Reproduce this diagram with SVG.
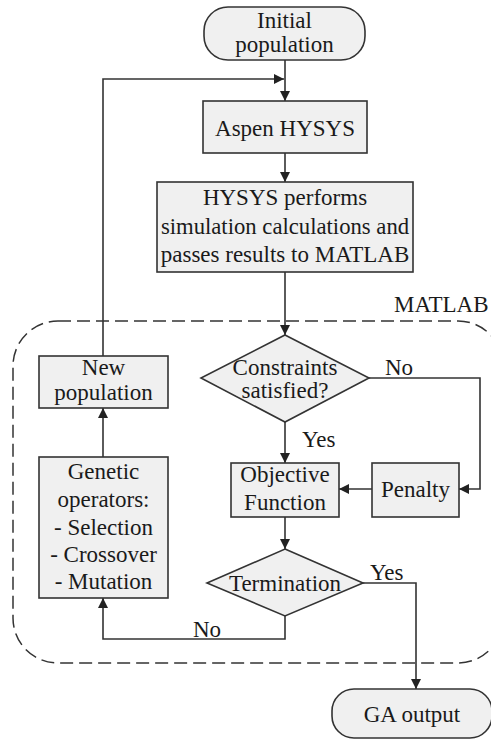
<svg xmlns="http://www.w3.org/2000/svg" width="491" height="740" viewBox="0 0 491 740">
<style>
.n{fill:#f0f0f0;stroke:#333;stroke-width:1.6}
.c{fill:none;stroke:#333;stroke-width:1.6}
.h{fill:#222;stroke:none}
</style>
<rect id="matlab" x="13" y="321" width="490" height="342" rx="45" fill="none" stroke="#333" stroke-width="1.5" stroke-dasharray="13,6"/>
<text style="font-family:'Liberation Serif';font-size:23px" fill="#1a1a1a" x="394" y="312">MATLAB</text>
<g id="connectors">
<path class="c" d="M285,60 V101"/>
<path class="c" d="M103,356 V79 H284"/>
<path class="c" d="M285,153 V182"/>
<path class="c" d="M285,272 V335"/>
<path class="c" d="M285,422 V463"/>
<path class="c" d="M369,378 H480 V489 H459"/>
<path class="c" d="M372,489 H339"/>
<path class="c" d="M285,517 V549"/>
<path class="c" d="M363,583 H416 V689"/>
<path class="c" d="M285,616 V639 H103 V598"/>
<path class="c" d="M103,457 V408"/>
<polygon class="h" points="280,91 290,91 285,101"/>
<polygon class="h" points="274,74 274,84 284,79"/>
<polygon class="h" points="280,172 290,172 285,182"/>
<polygon class="h" points="280,325 290,325 285,335"/>
<polygon class="h" points="280,453 290,453 285,463"/>
<polygon class="h" points="469,484 469,494 459,489"/>
<polygon class="h" points="349,484 349,494 339,489"/>
<polygon class="h" points="280,539 290,539 285,549"/>
<polygon class="h" points="411,679 421,679 416,689"/>
<polygon class="h" points="98,608 108,608 103,598"/>
<polygon class="h" points="98,418 108,418 103,408"/>
<text style="font-family:'Liberation Serif';font-size:23px" fill="#1a1a1a" x="385" y="375">No</text>
<text style="font-family:'Liberation Serif';font-size:23px" fill="#1a1a1a" x="302" y="447">Yes</text>
<text style="font-family:'Liberation Serif';font-size:23px" fill="#1a1a1a" x="370" y="580">Yes</text>
<text style="font-family:'Liberation Serif';font-size:23px" fill="#1a1a1a" x="193" y="637">No</text>
</g>
<g id="initial">
<rect class="n" x="204" y="7" width="161" height="53" rx="24"/>
<text style="font-family:'Liberation Serif';font-size:23px" fill="#1a1a1a" text-anchor="middle" x="284.5" y="28">Initial</text>
<text style="font-family:'Liberation Serif';font-size:23px" fill="#1a1a1a" text-anchor="middle" x="284.5" y="52">population</text>
</g>
<g id="aspen">
<rect class="n" x="203" y="101" width="164" height="52"/>
<text style="font-family:'Liberation Serif';font-size:23px" fill="#1a1a1a" text-anchor="middle" x="285" y="136">Aspen HYSYS</text>
</g>
<g id="hysys">
<rect class="n" x="157" y="182" width="256" height="90"/>
<text style="font-family:'Liberation Serif';font-size:23px" fill="#1a1a1a" text-anchor="middle" x="285" y="205">HYSYS performs</text>
<text style="font-family:'Liberation Serif';font-size:22.7px" fill="#1a1a1a" text-anchor="middle" x="285" y="233.5">simulation calculations and</text>
<text style="font-family:'Liberation Serif';font-size:23px" fill="#1a1a1a" text-anchor="middle" x="285" y="262">passes results to MATLAB</text>
</g>
<g id="constraints">
<polygon class="n" points="285,335 369,378 285,422 201,378"/>
<text style="font-family:'Liberation Serif';font-size:23px" fill="#1a1a1a" text-anchor="middle" x="285" y="375">Constraints</text>
<text style="font-family:'Liberation Serif';font-size:23px" fill="#1a1a1a" text-anchor="middle" x="285" y="398">satisfied?</text>
</g>
<g id="newpop">
<rect class="n" x="39" y="356" width="129" height="52"/>
<text style="font-family:'Liberation Serif';font-size:23px" fill="#1a1a1a" text-anchor="middle" x="103.5" y="375">New</text>
<text style="font-family:'Liberation Serif';font-size:23px" fill="#1a1a1a" text-anchor="middle" x="103.5" y="400">population</text>
</g>
<g id="genetic">
<rect class="n" x="39" y="457" width="129" height="141"/>
<text style="font-family:'Liberation Serif';font-size:23px" fill="#1a1a1a" text-anchor="middle" x="103.5" y="479">Genetic</text>
<text style="font-family:'Liberation Serif';font-size:23px" fill="#1a1a1a" text-anchor="middle" x="103.5" y="507">operators:</text>
<text style="font-family:'Liberation Serif';font-size:23px" fill="#1a1a1a" text-anchor="middle" x="103.5" y="535">- Selection</text>
<text style="font-family:'Liberation Serif';font-size:23px" fill="#1a1a1a" text-anchor="middle" x="103.5" y="562">- Crossover</text>
<text style="font-family:'Liberation Serif';font-size:23px" fill="#1a1a1a" text-anchor="middle" x="103.5" y="589">- Mutation</text>
</g>
<g id="objective">
<rect class="n" x="231" y="463" width="108" height="54"/>
<text style="font-family:'Liberation Serif';font-size:23px" fill="#1a1a1a" text-anchor="middle" x="285" y="482">Objective</text>
<text style="font-family:'Liberation Serif';font-size:23px" fill="#1a1a1a" text-anchor="middle" x="285" y="510">Function</text>
</g>
<g id="penalty">
<rect class="n" x="372" y="463" width="87" height="54"/>
<text style="font-family:'Liberation Serif';font-size:23px" fill="#1a1a1a" text-anchor="middle" x="415.5" y="497">Penalty</text>
</g>
<g id="termination">
<polygon class="n" points="285,549 363,583 285,616 207,583"/>
<text style="font-family:'Liberation Serif';font-size:23px" fill="#1a1a1a" text-anchor="middle" x="285" y="591">Termination</text>
</g>
<g id="gaoutput">
<rect class="n" x="332" y="689" width="160" height="49" rx="22"/>
<text style="font-family:'Liberation Serif';font-size:23px" fill="#1a1a1a" text-anchor="middle" x="412" y="722">GA output</text>
</g>
</svg>
